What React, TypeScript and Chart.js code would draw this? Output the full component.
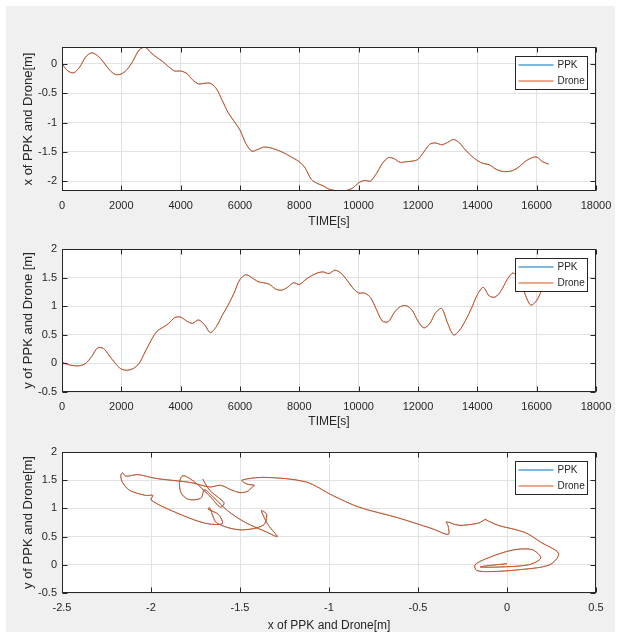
import React, { useEffect, useRef } from "react";
import { Chart, registerables } from "chart.js";

Chart.register(...registerables);

// ---------------- data ----------------
const timeS = [
  0, 200, 400, 600, 800, 1000, 1200, 1400, 1600, 1800,
  2000, 2200, 2400, 2600, 2800, 3000, 3200, 3400, 3600, 3800,
  4000, 4200, 4400, 4600, 4800, 5000, 5200, 5400, 5600, 5800,
  6000, 6200, 6400, 6600, 6800, 7000, 7200, 7400, 7600, 7800,
  8000, 8200, 8400, 8600, 8800, 9000, 9200, 9400, 9600, 9800,
  10000, 10200, 10400, 10600, 10800, 11000, 11200, 11400, 11600, 11800,
  12000, 12200, 12400, 12600, 12800, 13000, 13200, 13400, 13600, 13800,
  14000, 14200, 14400, 14600, 14800, 15000, 15200, 15400, 15600, 15800,
  16000, 16200, 16400,
];

// x position [m]
const xPosDrone = [
  0.0, -0.12, -0.15, -0.05, 0.12, 0.19, 0.14, 0.03, -0.1, -0.18,
  -0.17, -0.09, 0.06, 0.24, 0.29, 0.19, 0.11, 0.04, -0.05, -0.12,
  -0.12, -0.16, -0.27, -0.34, -0.33, -0.33, -0.42, -0.62, -0.83, -0.98,
  -1.13, -1.36, -1.49, -1.46, -1.42, -1.43, -1.46, -1.5, -1.55, -1.61,
  -1.67, -1.78, -1.97, -2.04, -2.08, -2.14, -2.16, -2.17, -2.16, -2.12,
  -2.03, -1.99, -2.0, -1.87, -1.7, -1.6, -1.62, -1.68, -1.67, -1.66,
  -1.63, -1.5, -1.37, -1.35, -1.38, -1.34, -1.29, -1.35, -1.47, -1.57,
  -1.65, -1.7, -1.72, -1.79, -1.83, -1.84, -1.82, -1.76, -1.67, -1.61,
  -1.59, -1.67, -1.71,
];
const xPosPPK = xPosDrone.slice();

// y position [m]
const yPosDrone = [
  0.02, -0.02, -0.04, -0.04, 0.0, 0.12, 0.27, 0.26, 0.13, 0.0,
  -0.1, -0.12, -0.09, 0.0, 0.2, 0.4, 0.56, 0.63, 0.7, 0.8,
  0.81, 0.74, 0.7, 0.76, 0.68, 0.54, 0.64, 0.84, 1.02, 1.23,
  1.47, 1.55, 1.5, 1.43, 1.41, 1.38, 1.3, 1.28, 1.33, 1.41,
  1.38, 1.46, 1.53, 1.58, 1.6, 1.57, 1.63, 1.58, 1.46, 1.32,
  1.23, 1.23, 1.15, 0.94, 0.74, 0.73, 0.89, 0.99, 1.01, 0.93,
  0.74, 0.62, 0.7, 0.89, 0.96, 0.7, 0.5, 0.58, 0.75, 0.96,
  1.2, 1.33, 1.18, 1.16, 1.27, 1.46, 1.58, 1.48, 1.22, 1.02,
  1.1, 1.32, 1.52,
];
const yPosPPK = yPosDrone.slice();

const seriesNames = ["PPK", "Drone"];
const seriesColors = ["#0072BD", "#D95319"];
const seriesWidths = [0.5, 1];

const timeTicks = [0, 2000, 4000, 6000, 8000, 10000, 12000, 14000, 16000, 18000];
const xPosTicks = [-2, -1.5, -1, -0.5, 0];
const yPosTicks = [-0.5, 0, 0.5, 1, 1.5, 2];
const trajXTicks = [-2.5, -2, -1.5, -1, -0.5, 0, 0.5];

// ---------------- style ----------------
const FONT = "'Liberation Sans', Arial, sans-serif";
const TXT = "#262626";
const GRID = "#e2e2e2";
const TICK_LEN = 5;

const matlabAxes = {
  id: "matlabAxes",
  beforeDraw(chart: any) {
    const { ctx, chartArea: a } = chart;
    ctx.save();
    ctx.fillStyle = "#ffffff";
    ctx.fillRect(a.left, a.top, a.right - a.left, a.bottom - a.top);
    ctx.restore();
  },
  afterDatasetsDraw(chart: any) {
    const { ctx, chartArea: a, scales } = chart;
    const L = Math.round(a.left) + 0.5;
    const R = Math.round(a.right) - 0.5;
    const T = Math.round(a.top) + 0.5;
    const B = Math.round(a.bottom) - 0.5;
    ctx.save();
    ctx.strokeStyle = TXT;
    ctx.lineWidth = 1;
    ctx.beginPath();
    for (const t of scales.x.ticks) {
      const p = Math.round(scales.x.getPixelForValue(t.value)) + 0.5;
      ctx.moveTo(p, B);
      ctx.lineTo(p, B - TICK_LEN);
      ctx.moveTo(p, T);
      ctx.lineTo(p, T + TICK_LEN);
    }
    for (const t of scales.y.ticks) {
      const p = Math.round(scales.y.getPixelForValue(t.value)) + 0.5;
      ctx.moveTo(L, p);
      ctx.lineTo(L + TICK_LEN, p);
      ctx.moveTo(R, p);
      ctx.lineTo(R - TICK_LEN, p);
    }
    ctx.stroke();
    ctx.strokeRect(L, T, R - L, B - T);
    ctx.restore();
  },
  afterDraw(chart: any) {
    const { ctx, chartArea: a } = chart;
    const w = 72;
    const h = 33;
    const x0 = Math.round(a.right - 9 - w) + 0.5;
    const y0 = Math.round(a.top + 9) + 0.5;
    ctx.save();
    ctx.fillStyle = "#ffffff";
    ctx.fillRect(x0, y0, w, h);
    ctx.strokeStyle = TXT;
    ctx.lineWidth = 1;
    ctx.strokeRect(x0, y0, w, h);
    chart.data.datasets.forEach((ds: any, i: number) => {
      const y = Math.round(y0 + 8 + i * 16);
      ctx.strokeStyle = ds.borderColor;
      ctx.lineWidth = 1;
      ctx.beginPath();
      ctx.moveTo(x0 + 3, y);
      ctx.lineTo(x0 + 38, y);
      ctx.stroke();
      ctx.fillStyle = TXT;
      ctx.font = `10px ${FONT}`;
      ctx.textBaseline = "middle";
      ctx.textAlign = "left";
      ctx.fillText(ds.label, x0 + 42, y + 0.5);
    });
    ctx.restore();
  },
};

type AxisSpec = {
  min: number;
  max: number;
  ticks: number[];
  title: string;
};

function makeConfig(
  datasets: { x: number; y: number }[][],
  xAxis: AxisSpec,
  yAxis: AxisSpec,
  padTop: number,
  xHeight: number,
  xTitleBottom: number
): any {
  return {
    type: "scatter",
    data: {
      datasets: datasets.map((d, i) => ({
        label: seriesNames[i],
        data: d,
        showLine: true,
        borderColor: seriesColors[i],
        backgroundColor: seriesColors[i],
        borderWidth: seriesWidths[i],
        pointRadius: 0,
        pointHoverRadius: 0,
        tension: 0.3,
        order: i === 1 ? 0 : 1,
      })),
    },
    options: {
      responsive: false,
      animation: false,
      devicePixelRatio: 1,
      layout: { padding: { top: padTop, right: 25, bottom: 0, left: 0 } },
      plugins: { legend: { display: false }, tooltip: { enabled: false } },
      scales: {
        x: {
          type: "linear",
          min: xAxis.min,
          max: xAxis.max,
          afterBuildTicks: (s: any) => {
            s.ticks = xAxis.ticks.map((v) => ({ value: v }));
          },
          afterFit: (s: any) => {
            s.height = xHeight;
          },
          grid: { color: GRID, drawTicks: false },
          border: { display: false },
          ticks: {
            color: TXT,
            font: { family: FONT, size: 11 },
            padding: 8,
            autoSkip: false,
            maxRotation: 0,
            callback: (v: any) => String(v),
          },
          title: {
            display: true,
            text: xAxis.title,
            color: TXT,
            font: { family: FONT, size: 12 },
            padding: { top: 0, bottom: xTitleBottom },
          },
        },
        y: {
          type: "linear",
          min: yAxis.min,
          max: yAxis.max,
          afterBuildTicks: (s: any) => {
            s.ticks = yAxis.ticks.map((v) => ({ value: v }));
          },
          afterFit: (s: any) => {
            s.width = 62;
          },
          grid: { color: GRID, drawTicks: false },
          border: { display: false },
          ticks: {
            color: TXT,
            font: { family: FONT, size: 11 },
            padding: 5,
            autoSkip: false,
            callback: (v: any) => String(v),
          },
          title: {
            display: true,
            text: yAxis.title,
            color: TXT,
            font: { family: FONT, size: 13 },
            padding: { top: 21, bottom: 0 },
          },
        },
      },
    },
    plugins: [matlabAxes],
  };
}

export default function App() {
  const c1 = useRef<HTMLCanvasElement>(null);
  const c2 = useRef<HTMLCanvasElement>(null);
  const c3 = useRef<HTMLCanvasElement>(null);

  useEffect(() => {
    const timeAxis: AxisSpec = { min: 0, max: 18000, ticks: timeTicks, title: "TIME[s]" };
    const xSeries = [xPosPPK, xPosDrone].map((arr) => timeS.map((t, i) => ({ x: t, y: arr[i] })));
    const ySeries = [yPosPPK, yPosDrone].map((arr) => timeS.map((t, i) => ({ x: t, y: arr[i] })));
    const trajSeries = [
      xPosPPK.map((v, i) => ({ x: v, y: yPosPPK[i] })),
      xPosDrone.map((v, i) => ({ x: v, y: yPosDrone[i] })),
    ];

    const ch1 = new Chart(
      c1.current as HTMLCanvasElement,
      makeConfig(
        xSeries,
        timeAxis,
        { min: -2.17, max: 0.29, ticks: xPosTicks, title: "x of PPK and Drone[m]" },
        47,
        39,
        1
      )
    );
    const ch2 = new Chart(
      c2.current as HTMLCanvasElement,
      makeConfig(
        ySeries,
        timeAxis,
        { min: -0.5, max: 2, ticks: yPosTicks, title: "y of PPK and Drone [m]" },
        19,
        38,
        1
      )
    );
    const ch3 = new Chart(
      c3.current as HTMLCanvasElement,
      makeConfig(
        trajSeries,
        { min: -2.5, max: 0.5, ticks: trajXTicks, title: "x of PPK and Drone[m]" },
        { min: -0.5, max: 2, ticks: yPosTicks, title: "y of PPK and Drone[m]" },
        22,
        45,
        5
      )
    );
    return () => {
      ch1.destroy();
      ch2.destroy();
      ch3.destroy();
    };
  }, []);

  const canvasStyle = (top: number, h: number): React.CSSProperties => ({
    position: "absolute",
    left: 0,
    top,
    width: 621,
    height: h,
    display: "block",
  });

  return (
    <div
      style={{
        position: "absolute",
        left: 0,
        top: 0,
        width: 621,
        height: 638,
        background: "#ffffff",
        overflow: "hidden",
      }}
    >
      <div
        style={{
          position: "absolute",
          left: 6,
          top: 6,
          width: 609,
          height: 626,
          background: "#f0f0f0",
        }}
      />
      <canvas ref={c1} width={621} height={230} style={canvasStyle(0, 230)} />
      <canvas ref={c2} width={621} height={200} style={canvasStyle(230, 200)} />
      <canvas ref={c3} width={621} height={208} style={canvasStyle(430, 208)} />
    </div>
  );
}
